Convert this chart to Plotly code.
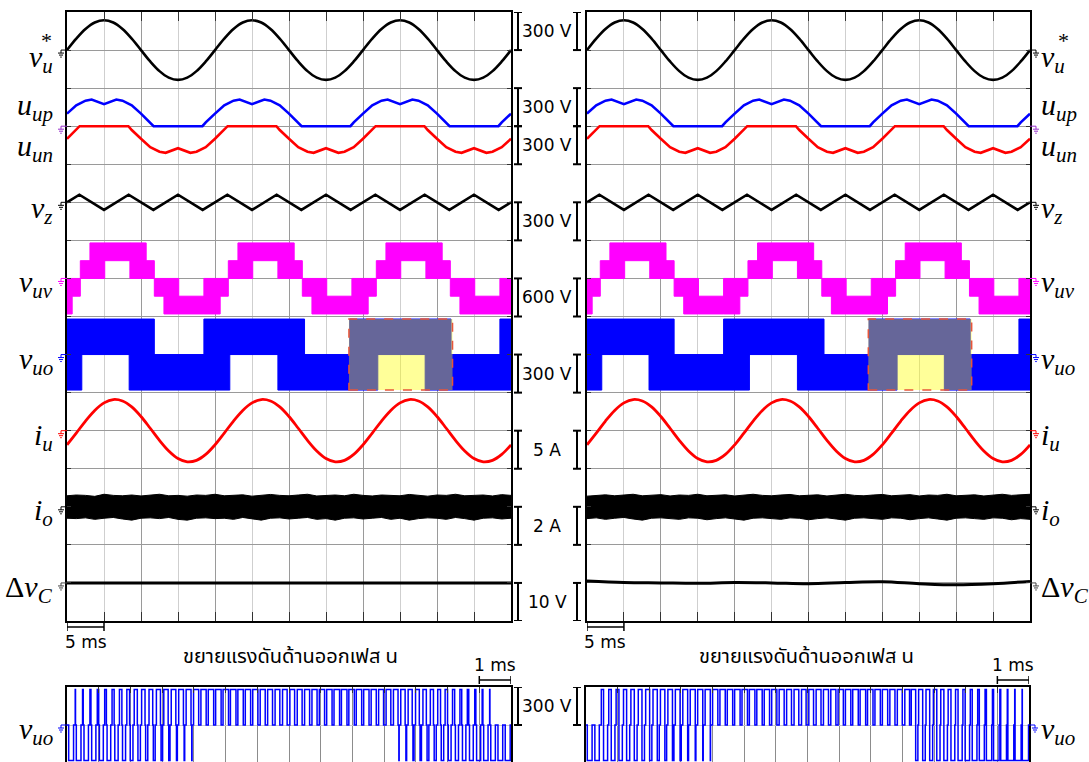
import plotly.graph_objects as go

FIG_W, FIG_H = 1089, 762
MAIN_TOP, MAIN_BOT = 12, 621          # px, main scope screens
ZOOM_TOP = 687                        # px, zoomed screens (run off the page)
DIV_PX = (MAIN_BOT - MAIN_TOP) / 16
PANEL_X = [(67, 511), (587, 1030)]    # px, left / right screens
ZOOM_X = [(67, 511), (586, 1029)]

# ---------------- channel table ----------------
CH_LABEL = ["<i>v</i><sub><i>u</i></sub>", "<i>u</i><sub><i>up</i></sub>",
            "<i>u</i><sub><i>un</i></sub>", "<i>v</i><sub><i>z</i></sub>",
            "<i>v</i><sub><i>uv</i></sub>", "<i>v</i><sub><i>uo</i></sub>",
            "<i>i</i><sub><i>u</i></sub>", "<i>i</i><sub><i>o</i></sub>",
            "Δ<i>v</i><sub><i>C</i></sub>"]
CH_GROUND = [15, 13, 13, 11, 9, 7, 5, 3, 1]            # divisions above bottom
CH_SCALE = [300, 300, 300, 300, 600, 300, 5, 2, 10]    # V or A per division
CH_BAR_TEXT = ["300 V", "300 V", "300 V", "300 V", "600 V", "300 V", "5 A", "2 A", "10 V"]
CH_BAR_DIR = [1, 1, -1, -1, -1, -1, -1, -1, -1]
CH_MARK_COLOR = ["black", "#9932CC", None, "black", "#FF00FF", "blue", "red", "black", "#444444"]
CH_LABEL_SHIFT = [-9, 19, -22, -8, -6, -6, -6, -5, -6]

# ---------------- waveforms (time in ms) ----------------
T_SINE = [k * 1.25 for k in range(49)]
VU_REF = [0, 90, 166, 217, 235, 217, 166, 90, 0, -90, -166, -217, -235, -217, -166, -90,
          0, 90, 166, 217, 235, 217, 166, 90, 0, -90, -166, -217, -235, -217, -166, -90,
          0, 90, 166, 217, 235, 217, 166, 90, 0, -90, -166, -217, -235, -217, -166, -90, 0]
IU = [-1.86, -0.32, 1.27, 2.66, 3.65, 4.09, 3.90, 3.12, 1.86, 0.32, -1.27, -2.66, -3.65, -4.09, -3.90, -3.12,
      -1.86, -0.32, 1.27, 2.66, 3.65, 4.09, 3.90, 3.12, 1.86, 0.32, -1.27, -2.66, -3.65, -4.09, -3.90, -3.12,
      -1.86, -0.32, 1.27, 2.66, 3.65, 4.09, 3.90, 3.12, 1.86, 0.32, -1.27, -2.66, -3.65, -4.09, -3.90, -3.12,
      -1.86]

UUP_T = [0, 1.25, 2.5, 3.33, 5, 6.67, 7.5, 8.75, 10, 11.25, 11.7, 18.3, 18.75,
         20, 21.25, 22.5, 23.33, 25, 26.67, 27.5, 28.75, 30, 31.25, 31.7, 38.3, 38.75,
         40, 41.25, 42.5, 43.33, 45, 46.67, 47.5, 48.75, 50, 51.25, 51.7, 58.3, 58.75, 60]
UUP_V = [99, 165, 201, 210, 174, 210, 201, 165, 99, 30, 0, 0, 30,
         99, 165, 201, 210, 174, 210, 201, 165, 99, 30, 0, 0, 30,
         99, 165, 201, 210, 174, 210, 201, 165, 99, 30, 0, 0, 30, 99]
UUN_T = [0, 1.25, 1.7, 8.3, 8.75, 10, 11.25, 12.5, 13.33, 15, 16.67, 17.5, 18.75,
         20, 21.25, 21.7, 28.3, 28.75, 30, 31.25, 32.5, 33.33, 35, 36.67, 37.5, 38.75,
         40, 41.25, 41.7, 48.3, 48.75, 50, 51.25, 52.5, 53.33, 55, 56.67, 57.5, 58.75, 60]
UUN_V = [-99, -30, 0, 0, -30, -99, -165, -201, -210, -174, -210, -201, -165,
         -99, -30, 0, 0, -30, -99, -165, -201, -210, -174, -210, -201, -165,
         -99, -30, 0, 0, -30, -99, -165, -201, -210, -174, -210, -201, -165, -99]

VZ_T = [0, 1.67, 5, 8.33, 11.67, 15, 18.33, 21.67, 25, 28.33, 31.67, 35, 38.33,
        41.67, 45, 48.33, 51.67, 55, 58.33, 60]
VZ_V = [0, 60, -60, 60, -60, 60, -60, 60, -60, 60, -60, 60, -60, 60, -60, 60, -60, 60, -60, 0]

# line-to-line voltage: switching band between two levels per interval
VUV_START = [0, 0.7, 1.8, 3.1, 5.1, 8.5, 10.7, 11.8, 13.1, 15.1, 18.5,
             20.7, 21.8, 23.1, 25.1, 28.5, 30.7, 31.8, 33.1, 35.1, 38.5,
             40.7, 41.8, 43.1, 45.1, 48.5, 50.7, 51.8, 53.1, 55.1, 58.5]
VUV_END = [0.7, 1.8, 3.1, 5.1, 8.5, 10.7, 11.8, 13.1, 15.1, 18.5, 20.7,
           21.8, 23.1, 25.1, 28.5, 30.7, 31.8, 33.1, 35.1, 38.5, 40.7,
           41.8, 43.1, 45.1, 48.5, 50.7, 51.8, 53.1, 55.1, 58.5, 60]
VUV_LO = [-560, -280, 0, 0, 280, 0, 0, -280, -560, -560, -560,
          -280, 0, 0, 280, 0, 0, -280, -560, -560, -560,
          -280, 0, 0, 280, 0, 0, -280, -560, -560, -560]
VUV_HI = [0, 0, 280, 560, 560, 560, 280, 0, 0, -280, 0,
          0, 280, 560, 560, 560, 280, 0, 0, -280, 0,
          0, 280, 560, 560, 560, 280, 0, 0, -280, 0]

# phase output voltage: upper-arm and lower-arm switching intervals
VUO_LEVEL = 280
VUO_UP_START = [0, 18.5, 38.2, 58.5]
VUO_UP_END = [11.8, 32.1, 51.9, 60]
VUO_DN_START = [0, 8.4, 28.5, 48.4]
VUO_DN_END = [2.0, 22.0, 42.0, 60]

# output current ripple envelope (A)
IO_HI_L = [0.58, 0.62, 0.60, 0.55, 0.66, 0.60, 0.58, 0.62, 0.57, 0.60, 0.66, 0.58, 0.60, 0.56, 0.62, 0.60,
           0.66, 0.58, 0.60, 0.63, 0.56, 0.60, 0.65, 0.60, 0.58, 0.62, 0.66, 0.57, 0.60, 0.62, 0.58, 0.66,
           0.60, 0.57, 0.62, 0.60, 0.58, 0.65, 0.60, 0.56, 0.62, 0.60, 0.66, 0.58, 0.60, 0.62, 0.57, 0.64, 0.60]
IO_LO_L = [-0.60, -0.62, -0.58, -0.66, -0.60, -0.56, -0.64, -0.70, -0.60, -0.58, -0.62, -0.56, -0.66, -0.70, -0.60, -0.58,
           -0.62, -0.60, -0.66, -0.56, -0.62, -0.70, -0.60, -0.58, -0.64, -0.60, -0.56, -0.66, -0.62, -0.70, -0.60, -0.58,
           -0.64, -0.60, -0.56, -0.66, -0.60, -0.70, -0.62, -0.58, -0.60, -0.66, -0.56, -0.62, -0.70, -0.60, -0.58, -0.64, -0.60]
IO_HI_R = [0.56, 0.60, 0.63, 0.58, 0.62, 0.66, 0.58, 0.60, 0.64, 0.57, 0.62, 0.60, 0.66, 0.58, 0.60, 0.63,
           0.57, 0.62, 0.66, 0.60, 0.58, 0.62, 0.65, 0.58, 0.60, 0.63, 0.57, 0.62, 0.66, 0.60, 0.58, 0.62,
           0.65, 0.58, 0.60, 0.64, 0.57, 0.62, 0.60, 0.66, 0.58, 0.60, 0.63, 0.57, 0.62, 0.66, 0.60, 0.64, 0.66]
IO_LO_R = [-0.62, -0.58, -0.66, -0.60, -0.56, -0.64, -0.70, -0.60, -0.58, -0.62, -0.66, -0.58, -0.60, -0.68, -0.62, -0.58,
           -0.64, -0.70, -0.60, -0.58, -0.62, -0.66, -0.58, -0.60, -0.68, -0.62, -0.58, -0.64, -0.70, -0.60, -0.58, -0.62,
           -0.66, -0.58, -0.60, -0.68, -0.62, -0.58, -0.64, -0.70, -0.60, -0.58, -0.62, -0.66, -0.58, -0.60, -0.68, -0.62, -0.66]

# capacitor voltage difference (V)
DVC_T = [0, 5, 10, 15, 20, 25, 30, 35, 40, 45, 50, 55, 60]
DVC_L = [0, 0, 0, 0, 0, 0, 0, 0, 0, 0, 0, 0, 0]
DVC_R = [0.5, 0.1, 0.0, -0.1, 0.1, 0.0, -0.2, 0.1, 0.3, -0.2, -0.5, -0.2, 0.4]

# zoomed phase voltage: 14 ms window, one duty pair per carrier period
ZOOM_START, ZOOM_SPAN = 38.1, 14.0
N_CARRIER = 60
DUTY_UP_L = [0, 0.04, 0.09, 0.14, 0.19, 0.23, 0.28, 0.33, 0.37, 0.42, 0.46, 0.50, 0.55, 0.59, 0.62,
             0.64, 0.66, 0.69, 0.71, 0.73, 0.74, 0.74, 0.75, 0.73, 0.72, 0.70, 0.68, 0.66, 0.64, 0.62,
             0.64, 0.66, 0.68, 0.69, 0.71, 0.73, 0.75, 0.75, 0.74, 0.73, 0.72, 0.69, 0.67, 0.64, 0.62,
             0.59, 0.55, 0.51, 0.46, 0.42, 0.38, 0.33, 0.29, 0.24, 0.19, 0.15, 0.10, 0.04, 0, 0]
DUTY_DN_L = [0.66, 0.63, 0.60, 0.57, 0.53, 0.49, 0.45, 0.41, 0.37, 0.33, 0.29, 0.25, 0.21, 0.17, 0.12,
             0.08, 0.04, 0, 0, 0, 0, 0, 0, 0, 0, 0, 0, 0, 0, 0,
             0, 0, 0, 0, 0, 0, 0, 0, 0, 0, 0, 0, 0, 0, 0.04,
             0.10, 0.15, 0.19, 0.24, 0.28, 0.33, 0.38, 0.42, 0.46, 0.51, 0.55, 0.59, 0.62, 0.64, 0.67]
DUTY_UP_R = [0, 0, 0.30, 0.34, 0.38, 0.42, 0.46, 0.50, 0.54, 0.58, 0.60, 0.62, 0.64, 0.66, 0.68,
             0.69, 0.70, 0.71, 0.72, 0.73, 0.74, 0.74, 0.75, 0.73, 0.72, 0.70, 0.68, 0.66, 0.64, 0.62,
             0.64, 0.66, 0.68, 0.69, 0.71, 0.73, 0.75, 0.75, 0.74, 0.73, 0.72, 0.69, 0.67, 0.64, 0.60,
             0.55, 0.50, 0.46, 0.42, 0.38, 0.34, 0.30, 0.26, 0.22, 0.18, 0.15, 0.12, 0.08, 0.05, 0.03]
DUTY_DN_R = [0.65, 0.60, 0.55, 0.50, 0.46, 0.42, 0.38, 0.34, 0.30, 0.27, 0.24, 0.20, 0.16, 0.12, 0.09,
             0.06, 0.03, 0, 0, 0, 0, 0, 0, 0, 0, 0, 0, 0, 0, 0,
             0, 0, 0, 0, 0, 0, 0, 0, 0, 0, 0, 0, 0, 0, 0.30,
             0.35, 0.40, 0.44, 0.48, 0.52, 0.56, 0.60, 0.64, 0.68, 0.72, 0.75, 0.78, 0.80, 0.82, 0.84]

TITLE_TH = "ขยายแรงดันด้านออกเฟส u"

# ---------------- helpers ----------------
GRID_MAJOR = "#9a9a9a"
GRID_MINOR = "#cfcfcf"
SERIF = "Liberation Serif, Times New Roman, serif"
SANS = "DejaVu Sans, Verdana, sans-serif"


def px_x(x):
    return x / FIG_W


def px_y(y):
    return 1 - y / FIG_H


def xid(n):
    return "x" if n == 1 else f"x{n}"


def yid(n):
    return "y" if n == 1 else f"y{n}"


def xkey(n):
    return "xaxis" if n == 1 else f"xaxis{n}"


def ykey(n):
    return "yaxis" if n == 1 else f"yaxis{n}"


def screen(c, values):
    """Place a channel's values on the screen grid (divisions) like a scope does."""
    return [None if v is None else CH_GROUND[c] + v / CH_SCALE[c] for v in values]


def band_polys(starts, ends, lows, highs):
    xs, ys = [], []
    for s, e, lo, hi in zip(starts, ends, lows, highs):
        xs += [s, e, e, s, s, None]
        ys += [lo, lo, hi, hi, lo, None]
    return xs, ys


def pwm_steps(d_up, d_dn, level, period, swing):
    xs, ys = [], []
    t = 0.0
    for du, dd in zip(d_up, d_dn):
        if swing:
            g = (1 - du - dd) / 2
            seq = [(g, 0), (du, level), (dd, -level), (g, 0)]
        else:
            g = (1 - du - dd) / 3
            seq = [(g, 0), (du, level), (g, 0), (dd, -level), (g, 0)]
        for frac, lvl in seq:
            if frac <= 0:
                continue
            xs += [t, t + frac * period]
            ys += [lvl, lvl]
            t += frac * period
    return xs, ys


fig = go.Figure()
layout = dict(width=FIG_W, height=FIG_H, autosize=False,
              margin=dict(l=0, r=0, t=0, b=0),
              paper_bgcolor="white", plot_bgcolor="white", showlegend=False)
shapes, annos = [], []


def ground_marker(xs, gy, color, side):
    """Small scope ground symbol at screen edge xs (px) and height gy (px)."""
    if side == "left":
        stem, foot = (xs - 6, xs), xs - 6
    else:
        stem, foot = (xs, xs + 6), xs + 6
    shapes.append(dict(type="line", xref="paper", yref="paper", x0=px_x(stem[0]), x1=px_x(stem[1]),
                       y0=px_y(gy), y1=px_y(gy), line=dict(color=color, width=1)))
    shapes.append(dict(type="line", xref="paper", yref="paper", x0=px_x(foot), x1=px_x(foot),
                       y0=px_y(gy), y1=px_y(gy + 3), line=dict(color=color, width=1)))
    for w, dyp in ((3, 3), (2, 5), (0.8, 7)):
        shapes.append(dict(type="line", xref="paper", yref="paper", x0=px_x(foot - w), x1=px_x(foot + w),
                           y0=px_y(gy + dyp), y1=px_y(gy + dyp), line=dict(color=color, width=1)))


# ---------------- scope screens ----------------
for p, (x0, x1) in enumerate(PANEL_X):
    n = p + 1
    xa, ya = xid(n), yid(n)
    layout[xkey(n)] = dict(domain=[px_x(x0), px_x(x1)], range=[0, 60], tick0=0, dtick=10,
                           showgrid=True, gridcolor=GRID_MAJOR, gridwidth=1, zeroline=False,
                           minor=dict(dtick=5, tick0=0, showgrid=True, gridcolor=GRID_MINOR,
                                      ticks="inside", ticklen=9, tickcolor="#333"),
                           showticklabels=False, ticks="inside", ticklen=9, tickcolor="#333",
                           showline=True, linecolor="black", linewidth=2, mirror="ticks",
                           anchor=ya, fixedrange=True)
    layout[ykey(n)] = dict(domain=[px_y(MAIN_BOT), px_y(MAIN_TOP)], range=[0, 16], tick0=0, dtick=1,
                           showgrid=True, gridcolor=GRID_MAJOR, gridwidth=1, zeroline=False,
                           showticklabels=False, ticks="inside", ticklen=4, tickcolor="#333",
                           showline=True, linecolor="black", linewidth=2, mirror="ticks",
                           anchor=xa, fixedrange=True)

    io_hi = IO_HI_L if p == 0 else IO_HI_R
    io_lo = IO_LO_L if p == 0 else IO_LO_R
    dvc = DVC_L if p == 0 else DVC_R

    fig.add_trace(go.Scatter(x=T_SINE, y=screen(0, VU_REF), mode="lines",
                             line=dict(color="black", width=2.6, shape="spline"), xaxis=xa, yaxis=ya))
    fig.add_trace(go.Scatter(x=UUP_T, y=screen(1, UUP_V), mode="lines",
                             line=dict(color="blue", width=2.6), xaxis=xa, yaxis=ya))
    fig.add_trace(go.Scatter(x=UUN_T, y=screen(2, UUN_V), mode="lines",
                             line=dict(color="red", width=2.6), xaxis=xa, yaxis=ya))
    fig.add_trace(go.Scatter(x=VZ_T, y=screen(3, VZ_V), mode="lines",
                             line=dict(color="black", width=2.6), xaxis=xa, yaxis=ya))
    bx, by = band_polys(VUV_START, VUV_END, VUV_LO, VUV_HI)
    fig.add_trace(go.Scatter(x=bx, y=screen(4, by), mode="lines", fill="toself", fillcolor="#FF00FF",
                             line=dict(color="#FF00FF", width=1), xaxis=xa, yaxis=ya))
    ux, uy = band_polys(VUO_UP_START, VUO_UP_END, [0] * len(VUO_UP_START), [VUO_LEVEL] * len(VUO_UP_START))
    dx, dy = band_polys(VUO_DN_START, VUO_DN_END, [-VUO_LEVEL] * len(VUO_DN_START), [0] * len(VUO_DN_START))
    fig.add_trace(go.Scatter(x=ux + dx, y=screen(5, uy + dy), mode="lines", fill="toself", fillcolor="blue",
                             line=dict(color="blue", width=1), xaxis=xa, yaxis=ya))
    fig.add_trace(go.Scatter(x=T_SINE, y=screen(6, IU), mode="lines",
                             line=dict(color="red", width=2.8, shape="spline"), xaxis=xa, yaxis=ya))
    fig.add_trace(go.Scatter(x=T_SINE + T_SINE[::-1], y=screen(7, io_hi + io_lo[::-1]), mode="lines",
                             fill="toself", fillcolor="black", line=dict(color="black", width=1),
                             xaxis=xa, yaxis=ya))
    fig.add_trace(go.Scatter(x=DVC_T, y=screen(8, dvc), mode="lines",
                             line=dict(color="black", width=3, shape="spline"), xaxis=xa, yaxis=ya))

    # zoom-window marker on the phase voltage trace
    shapes.append(dict(type="rect", xref=xa, yref=ya, x0=ZOOM_START, x1=ZOOM_START + ZOOM_SPAN,
                       y0=screen(5, [-VUO_LEVEL])[0], y1=screen(5, [VUO_LEVEL])[0],
                       fillcolor="rgba(255,255,0,0.4)",
                       line=dict(color="#E8553A", width=1.5, dash="dash"), layer="above"))

    # channel labels and ground markers
    for c in range(9):
        gy = MAIN_TOP + (16 - CH_GROUND[c]) * DIV_PX
        annos.append(dict(text=CH_LABEL[c], xref="paper", yref="paper",
                          x=px_x(55 if p == 0 else 1039), y=px_y(gy),
                          xanchor="right" if p == 0 else "left", yanchor="middle",
                          yshift=CH_LABEL_SHIFT[c], showarrow=False,
                          font=dict(family=SERIF, size=30, color="black")))
        if CH_MARK_COLOR[c] is not None:
            ground_marker(x0 if p == 0 else x1, gy, CH_MARK_COLOR[c], "left" if p == 0 else "right")
    # star of the reference-voltage label
    annos.append(dict(text="*", xref="paper", yref="paper", x=px_x(46 if p == 0 else 1063), y=px_y(40),
                      xanchor="center", yanchor="middle", showarrow=False,
                      font=dict(family=SERIF, size=22, color="black")))

    # 5 ms time scale bar
    shapes.append(dict(type="line", xref=xa, yref="paper", x0=0, x1=5, y0=px_y(627), y1=px_y(627),
                       line=dict(color="black", width=1.5)))
    for tx in (0, 5):
        shapes.append(dict(type="line", xref=xa, yref="paper", x0=tx, x1=tx, y0=px_y(623), y1=px_y(631),
                           line=dict(color="black", width=1.5)))
    annos.append(dict(text="5 ms", xref=xa, yref="paper", x=2.5, y=px_y(642), xanchor="center",
                      yanchor="middle", showarrow=False, font=dict(family=SANS, size=17, color="black")))

# amplitude scale bars between the screens
for c in range(9):
    yend = CH_GROUND[c] + CH_BAR_DIR[c]
    for p, bxp in enumerate((518, 577)):
        ya = yid(p + 1)
        shapes.append(dict(type="line", xref="paper", yref=ya, x0=px_x(bxp), x1=px_x(bxp),
                           y0=CH_GROUND[c], y1=yend, line=dict(color="black", width=2)))
        for yy in (CH_GROUND[c], yend):
            shapes.append(dict(type="line", xref="paper", yref=ya, x0=px_x(bxp - 4), x1=px_x(bxp + 4),
                               y0=yy, y1=yy, line=dict(color="black", width=2)))
    annos.append(dict(text=CH_BAR_TEXT[c], xref="paper", yref="y", x=px_x(547),
                      y=CH_GROUND[c] + CH_BAR_DIR[c] / 2, xanchor="center", yanchor="middle",
                      showarrow=False, font=dict(family=SANS, size=17, color="black")))

# ---------------- zoomed screens ----------------
zoom_range = [-(FIG_H - 725) / DIV_PX * 300, (725 - ZOOM_TOP) / DIV_PX * 300]
for p, (x0, x1) in enumerate(ZOOM_X):
    n = p + 3
    xa, ya = xid(n), yid(n)
    layout[xkey(n)] = dict(domain=[px_x(x0), px_x(x1)], range=[0, ZOOM_SPAN], tick0=0, dtick=1,
                           showgrid=True, gridcolor="#8c8c8c", gridwidth=1, zeroline=False,
                           showticklabels=False, ticks="inside", ticklen=6, tickcolor="#333",
                           side="top", showline=True, linecolor="black", linewidth=2,
                           anchor=ya, fixedrange=True)
    layout[ykey(n)] = dict(domain=[0, px_y(ZOOM_TOP)], range=zoom_range, tickvals=[0],
                           showgrid=True, gridcolor="#c8c8c8", gridwidth=1, zeroline=False,
                           showticklabels=False, ticks="", showline=True, linecolor="black",
                           linewidth=2, mirror=True, anchor=xa, fixedrange=True)
    du = DUTY_UP_L if p == 0 else DUTY_UP_R
    dd = DUTY_DN_L if p == 0 else DUTY_DN_R
    zx, zy = pwm_steps(du, dd, VUO_LEVEL, ZOOM_SPAN / N_CARRIER, swing=(p == 1))
    fig.add_trace(go.Scatter(x=zx, y=zy, mode="lines", line=dict(color="blue", width=1.5),
                             xaxis=xa, yaxis=ya))

    # title, 1 ms bar, label, ground marker
    annos.append(dict(text=TITLE_TH, xref="paper", yref="paper", x=px_x(290 if p == 0 else 806),
                      y=px_y(657), xanchor="center", yanchor="middle", showarrow=False,
                      font=dict(family="Noto Sans Thai, Tahoma, DejaVu Sans, sans-serif", size=20,
                                color="black")))
    shapes.append(dict(type="line", xref=xa, yref="paper", x0=ZOOM_SPAN - 1, x1=ZOOM_SPAN,
                       y0=px_y(680), y1=px_y(680), line=dict(color="black", width=1.5)))
    for tx in (ZOOM_SPAN - 1, ZOOM_SPAN):
        shapes.append(dict(type="line", xref=xa, yref="paper", x0=tx, x1=tx, y0=px_y(676), y1=px_y(684),
                           line=dict(color="black", width=1.5)))
    annos.append(dict(text="1 ms", xref=xa, yref="paper", x=ZOOM_SPAN - 0.5, y=px_y(665),
                      xanchor="center", yanchor="middle", showarrow=False,
                      font=dict(family=SANS, size=17, color="black")))
    annos.append(dict(text=CH_LABEL[5], xref="paper", yref="paper", x=px_x(55 if p == 0 else 1039),
                      y=px_y(725), yshift=-6, xanchor="right" if p == 0 else "left", yanchor="middle",
                      showarrow=False, font=dict(family=SERIF, size=30, color="black")))
    ground_marker(x0 if p == 0 else x1, 725, "blue", "left" if p == 0 else "right")

    # 300 V scale bar of the zoomed screen
    bxp = 518 if p == 0 else 577
    shapes.append(dict(type="line", xref="paper", yref=ya, x0=px_x(bxp), x1=px_x(bxp), y0=0, y1=300,
                       line=dict(color="black", width=2)))
    for yy in (0, 300):
        shapes.append(dict(type="line", xref="paper", yref=ya, x0=px_x(bxp - 4), x1=px_x(bxp + 4),
                           y0=yy, y1=yy, line=dict(color="black", width=2)))
annos.append(dict(text="300 V", xref="paper", yref="y3", x=px_x(547), y=150, xanchor="center",
                  yanchor="middle", showarrow=False, font=dict(family=SANS, size=17, color="black")))

layout["shapes"] = shapes
layout["annotations"] = annos
fig.update_layout(layout)
fig.write_html("out.html")
